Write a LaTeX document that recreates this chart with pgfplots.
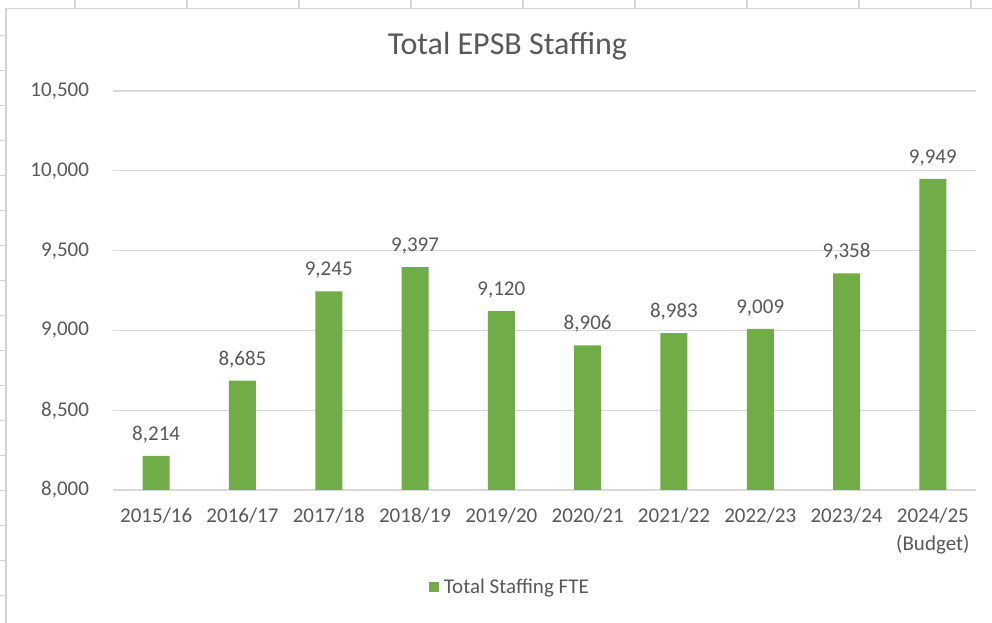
\documentclass[border=0pt]{standalone}
\usepackage{pgfplots}
\pgfplotsset{compat=1.18}
\usepackage{fontspec}
\setmainfont{Carlito}
\definecolor{bargreen}{HTML}{70AD47}
\definecolor{txtgray}{HTML}{595959}
\definecolor{gridgray}{HTML}{D9D9D9}
\definecolor{sheetgray}{HTML}{D4D4D4}
\begin{document}
\begin{tikzpicture}
\path[use as bounding box, fill=white] (0,0) rectangle (744pt,467.25pt);
% spreadsheet cell edges and chart border
\foreach \xx in {75,187,299,411,523,635,747,859,971}
  \draw[sheetgray, line width=0.8pt] (\xx*0.75pt,467.25pt) -- (\xx*0.75pt,461pt);
\foreach \yy in {35,70,...,610}
  \draw[sheetgray, line width=0.6pt] (0pt,467.25pt-\yy*0.75pt) -- (4pt,467.25pt-\yy*0.75pt);
\draw[sheetgray, line width=1pt] (4.5pt,0pt) -- (4.5pt,461pt) -- (744pt,461pt);
\begin{axis}[
  at={(84.75pt,99.75pt)}, anchor=south west,
  scale only axis, width=647.25pt, height=299.25pt,
  ybar, bar width=20.25pt,
  xmin=-0.5, xmax=9.5, ymin=8000, ymax=10500,
  ytick={8000,8500,...,10500},
  xtick=data,
  xticklabels={2015/16,2016/17,2017/18,2018/19,2019/20,2020/21,2021/22,2022/23,2023/24,{2024/25\\(Budget)}},
  xticklabel style={align=center, font=\fontsize{15.75pt}{21pt}\selectfont, text=txtgray, yshift=-10pt},
  yticklabel style={font=\fontsize{15.75pt}{18pt}\selectfont, text=txtgray, xshift=-14.5pt},
  /pgf/number format/assume math mode=true,
  /pgf/number format/1000 sep={,},
  scaled y ticks=false,
  ymajorgrids, grid style={gridgray, line width=0.8pt},
  axis x line*=bottom, axis y line*=left,
  x axis line style={gridgray, line width=0.8pt, -},
  y axis line style={draw=none},
  major tick length=0pt,
  nodes near coords,
  nodes near coords style={font=\fontsize{15.75pt}{18pt}\selectfont, text=txtgray, yshift=6pt, /pgf/number format/1000 sep={,}, /pgf/number format/assume math mode=true},
  legend style={at={(0.46,-0.243)}, anchor=center, draw=none, fill=none,
    font=\fontsize{15.75pt}{18pt}\selectfont, text=txtgray, inner sep=0pt,
    /tikz/every even column/.append style={column sep=3pt}},
  legend image code/.code={\fill[bargreen] (0pt,-3.75pt) rectangle (7.5pt,3.75pt);},
  title={Total EPSB Staffing},
  title style={font=\fontsize{24pt}{28pt}\selectfont, text=txtgray, at={(0.457,1.0)}, anchor=center, yshift=28pt},
  clip=false,
]
\addplot[fill=bargreen, draw=none] coordinates {
  (0,8214) (1,8685) (2,9245) (3,9397) (4,9120)
  (5,8906) (6,8983) (7,9009) (8,9358) (9,9949)
};
\addlegendentry{\hspace{2pt}Total Staffing FTE}
\end{axis}
\end{tikzpicture}
\end{document}
